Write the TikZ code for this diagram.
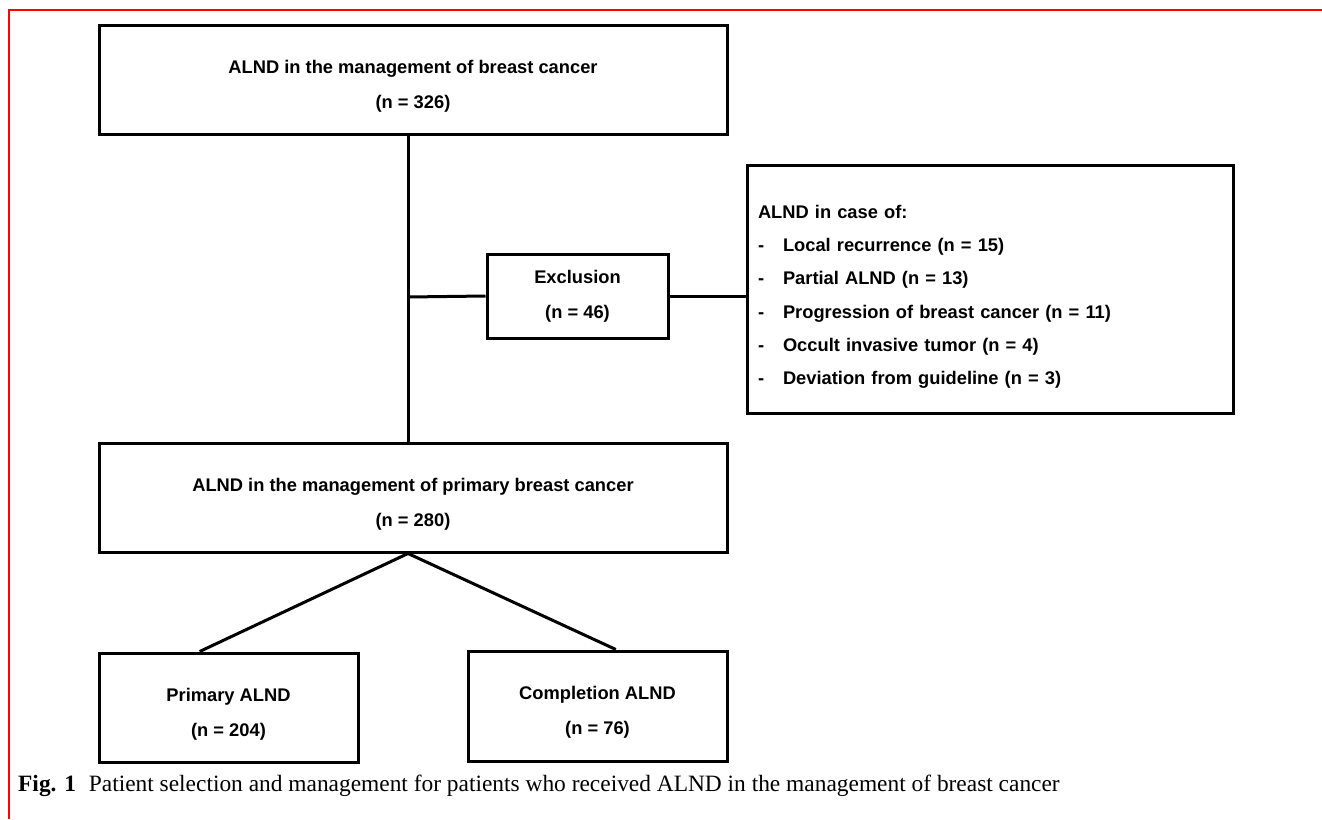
\documentclass[tikz,border=0pt]{standalone}
\usepackage{fontspec}
\setmainfont{Liberation Serif}
\newfontfamily\arialfont{Liberation Sans}
\usetikzlibrary{positioning,calc}
\tikzset{box/.style={draw=black,line width=3pt,fill=white,align=center,
 inner sep=0pt,font=\arialfont\bfseries\fontsize{18.3}{35}\selectfont},
 drop/.style={text height=61pt},
 ln/.style={line width=3pt},
 figcap/.style={font=\fontsize{23.4}{26}\selectfont,anchor=base west,inner sep=0pt}}

\begin{document}
\begin{tikzpicture}[x=1pt,y=-1pt]
\useasboundingbox (0,0) rectangle (1322,819);
\draw[red,line width=2pt] (9,819)--(9,10)--(1322,10);
\node[box,drop,minimum width=628pt,minimum height=109pt] (t) at (413,79.5) {ALND in the management of breast cancer\\(n = 326)};
\node[box,minimum width=181pt,minimum height=84pt] (x) at (577.5,296) {Exclusion\\(n = 46)};
\node[box,minimum width=486pt,minimum height=248pt,align=left,text width=464pt,text height=29pt,
 font=\arialfont\bfseries\fontsize{18.3}{33.2}\selectfont] (c) at (990,289) {ALND in case of:\\
\makebox[25pt][l]{-}Local recurrence (n = 15)\\
\makebox[25pt][l]{-}Partial ALND (n = 13)\\
\makebox[25pt][l]{-}Progression of breast cancer (n = 11)\\
\makebox[25pt][l]{-}Occult invasive tumor (n = 4)\\
\makebox[25pt][l]{-}Deviation from guideline (n = 3)};
\node[box,drop,minimum width=628pt,minimum height=109pt] (p) at (413,497.5) {ALND in the management of primary breast cancer\\(n = 280)};
\node[box,drop,minimum width=259pt,minimum height=109pt] (a) at (228.5,707.5) {Primary ALND\\(n = 204)};
\node[box,drop,minimum width=259pt,minimum height=110pt] (b) at (597.5,706) {Completion ALND\\(n = 76)};
\coordinate (s) at (408,297);
\draw[ln] (t.south -| s)--(p.north -| s);
\draw[ln] (s)--(x.west);
\draw[ln] (x.east)--(x.east -| c.west);
\draw[ln] ($(a.north west)!0.39!(a.north east)$)--(p.south -| s)--($(b.north west)!0.57!(b.north east)$);
\node[figcap] (f) at (18,791) {\textbf{Fig. 1}\hspace{0.55em}Patient selection and management for patients who received ALND in the management of breast cancer};
\end{tikzpicture}
\end{document}
